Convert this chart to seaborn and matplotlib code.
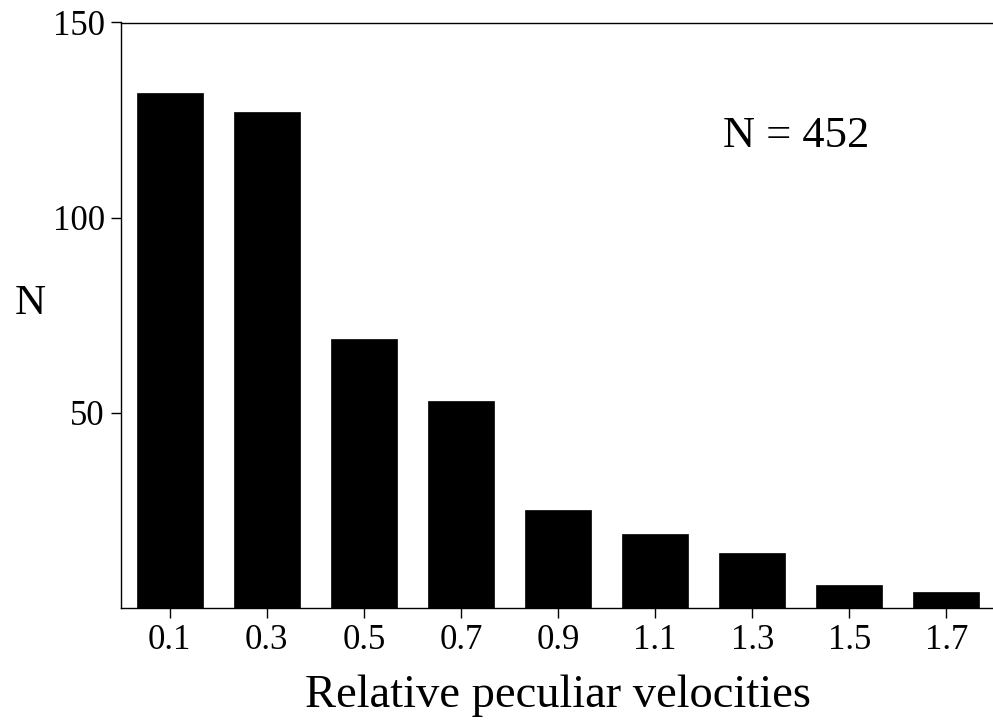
import matplotlib
matplotlib.use("Agg")
import matplotlib.pyplot as plt
import seaborn as sns
import pandas as pd

categories = ["0.1", "0.3", "0.5", "0.7", "0.9", "1.1", "1.3", "1.5", "1.7"]
counts = [132, 127, 69, 53, 25, 19, 14, 6, 4]
y_ticks = [50, 100, 150]
annotation = "N = 452"

sns.set_theme(style="white")
plt.rcParams['font.family'] = ['Liberation Serif', 'DejaVu Serif']

df = pd.DataFrame({"v": categories, "n": counts})

fig = plt.figure(figsize=(9.93, 7.23), dpi=100)
ax = fig.add_axes([121/993, (723-608)/723, 874/993, (608-22.5)/723])
sns.barplot(data=df, x="v", y="n", color="black", width=0.68,
            saturation=1, edgecolor="black", linewidth=0.5, ax=ax)

ax.set_xlim(-0.5, 8.5)
ax.set_ylim(0, 150)
ax.set_yticks(y_ticks)
ax.set_yticklabels([str(t) for t in y_ticks])

for s in ["left", "bottom", "top"]:
    ax.spines[s].set_visible(True)
    ax.spines[s].set_color("black")
    ax.spines[s].set_linewidth(1.0)
ax.spines["right"].set_visible(False)

ax.tick_params(axis="both", which="major", direction="out", length=7.5,
               width=1.0, color="black", labelsize=25, labelcolor="black",
               bottom=True, left=True, top=False, right=False, pad=4)

ax.set_xlabel("Relative peculiar velocities", fontsize=33.5, color="black")
ax.xaxis.set_label_coords(0.5, -0.113)
ax.set_ylabel("N", fontsize=31, rotation=0, color="black", va="center", ha="center")
ax.yaxis.set_label_coords(-0.104, 0.52)

ax.text(0.773, 0.806, annotation, transform=ax.transAxes, fontsize=32,
        ha="center", va="center", color="black")

fig.savefig("out.png", dpi=100)
